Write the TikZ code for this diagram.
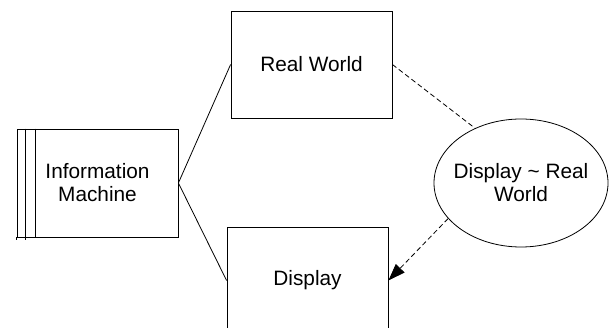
\documentclass[tikz,border=0pt]{standalone}
\usepackage{fontspec}
\setmainfont{Liberation Sans}
\usepackage{tikz}
\usetikzlibrary{positioning, shapes.geometric, arrows.meta}

\begin{document}
\begin{tikzpicture}[x=1pt,y=-1pt,line width=0.8pt,
	box/.style={draw, rectangle, minimum width=161pt, minimum height=107pt, align=center, inner sep=0pt},
	link/.style={draw, dash pattern=on 5pt off 3pt},
	every node/.style={font=\fontsize{20.8}{23}\selectfont}]
			\useasboundingbox (0,0) rectangle (610,328);
			\node[box, minimum height=108pt] (im) at (97.5,183) {Information\\Machine};
			\node[box] (rw) at (311.5,64.5) {Real World};
			\node[box] (dis) at (307.5,280.5) {Display};
			\node[draw, ellipse, minimum width=174pt, minimum height=128pt, inner sep=-8pt, align=center] (dre) at (521,183) {Display \textasciitilde{} Real\\World};
			\draw ([xshift=9pt]im.north west) -- ([xshift=9pt,yshift=-3pt]im.south west);
			\draw ([xshift=19pt]im.north west) -- ([xshift=19pt]im.south west);
			\draw (im.south west) -- ([yshift=-3pt]im.south west);
			\draw (im.east) -- (rw.west);
			\draw (im.east) -- (dis.west);
			\draw[link] (rw.east) -- (dre.130);
			\draw[link, -{Triangle[length=17pt,width=12pt]}] (dre.206) -- (dis.east);
			\end{tikzpicture}
\end{document}
